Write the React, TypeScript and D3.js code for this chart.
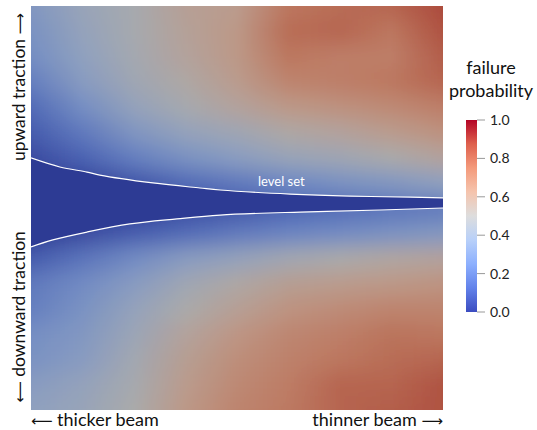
import React from 'react';
import * as d3 from 'd3';

// thickness (left: thicker, right: thinner), normalized 0..1
const thickness = [0, 0.125, 0.25, 0.375, 0.5, 0.625, 0.75, 0.875, 1];
// traction (top: upward +1, bottom: downward -1)
const traction = [1, 0.875, 0.75, 0.625, 0.5, 0.375, 0.25, 0.125, 0, -0.125, -0.25, -0.375, -0.5, -0.625, -0.75, -0.875, -1];
// failure probability, one row per traction value, one column per thickness value
const probability = [
  [0.33, 0.42, 0.48, 0.57, 0.60, 0.75, 0.78, 0.80, 0.87],
  [0.30, 0.40, 0.48, 0.56, 0.62, 0.78, 0.80, 0.75, 0.85],
  [0.28, 0.38, 0.47, 0.55, 0.62, 0.75, 0.72, 0.72, 0.82],
  [0.22, 0.35, 0.45, 0.52, 0.60, 0.70, 0.72, 0.75, 0.80],
  [0.15, 0.28, 0.40, 0.48, 0.55, 0.62, 0.65, 0.68, 0.72],
  [0.10, 0.20, 0.32, 0.40, 0.45, 0.52, 0.55, 0.60, 0.65],
  [0.05, 0.12, 0.22, 0.30, 0.36, 0.42, 0.45, 0.50, 0.55],
  [0.00, 0.02, 0.08, 0.15, 0.20, 0.25, 0.30, 0.33, 0.38],
  [0.00, 0.00, 0.00, 0.05, 0.08, 0.12, 0.15, 0.18, 0.20],
  [0.00, 0.05, 0.10, 0.15, 0.20, 0.24, 0.27, 0.30, 0.33],
  [0.10, 0.18, 0.27, 0.35, 0.40, 0.46, 0.50, 0.53, 0.55],
  [0.20, 0.27, 0.35, 0.45, 0.52, 0.58, 0.60, 0.62, 0.64],
  [0.22, 0.30, 0.40, 0.50, 0.57, 0.64, 0.67, 0.70, 0.70],
  [0.28, 0.33, 0.43, 0.55, 0.63, 0.69, 0.72, 0.76, 0.75],
  [0.30, 0.35, 0.46, 0.58, 0.66, 0.71, 0.75, 0.78, 0.80],
  [0.35, 0.40, 0.48, 0.60, 0.68, 0.73, 0.80, 0.80, 0.85],
  [0.38, 0.42, 0.50, 0.62, 0.70, 0.74, 0.80, 0.82, 0.85],
];
// level set contour: [thickness, traction]
const levelSetUpper: [number, number][] = [
  [0, 0.248], [0.07, 0.203], [0.136, 0.178], [0.167, 0.163], [0.296, 0.124],
  [0.41, 0.099], [0.459, 0.089], [0.629, 0.069], [0.774, 0.059], [0.92, 0.054], [1, 0.05],
];
const levelSetLower: [number, number][] = [
  [0, -0.193], [0.053, -0.158], [0.136, -0.119], [0.24, -0.079], [0.354, -0.054],
  [0.459, -0.035], [0.653, -0.02], [0.847, -0.01], [1, 0.0],
];
const colorbarTicks = [0, 0.2, 0.4, 0.6, 0.8, 1.0];
// ParaView "Cool to Warm" colour map
const coolWarmStops = [0, 0.125, 0.25, 0.375, 0.5, 0.625, 0.75, 0.875, 1];
const coolWarmColors = ['#3b4cc0', '#6282ea', '#8db0fe', '#b8d0f9', '#dddddd', '#f5c4ad', '#f49a7b', '#de604d', '#b40426'];

const W = 537;
const H = 430;
const SHADE = 0.77;
const FONT = 'Lato, "Open Sans", sans-serif';
const ARROW_FONT = '"DejaVu Sans", sans-serif';

export default function App() {
  const x = d3.scaleLinear().domain([0, 1]).range([31, 443]);
  const y = d3.scaleLinear().domain([1, -1]).range([6, 410]);
  const cb = d3.scaleLinear().domain([0, 1]).range([312, 120]);
  const coolWarm = d3.scaleLinear<string>().domain(coolWarmStops).range(coolWarmColors).interpolate(d3.interpolateLab);
  const shade = (v: number) => {
    const c = d3.rgb(coolWarm(v));
    return d3.rgb(c.r * SHADE, c.g * SHADE, c.b * SHADE).formatHex();
  };
  const rowH = Math.abs(y(traction[1]) - y(traction[0]));
  const line = d3.line<[number, number]>().x(d => x(d[0])).y(d => y(d[1])).curve(d3.curveCatmullRom);
  const upPath = line(levelSetUpper) as string;
  const loPath = line(levelSetLower) as string;
  const loRev = line(levelSetLower.slice().reverse()) as string;
  const bandPath = upPath + 'L' + loRev.slice(1) + 'Z';

  const arrowR = <tspan fontFamily={ARROW_FONT} fontSize={15}>⟶</tspan>;
  const arrowL = <tspan fontFamily={ARROW_FONT} fontSize={15}>⟵</tspan>;

  return (
    <svg width={W} height={H} style={{ position: 'absolute', left: 0, top: 0, background: '#fff' }}>
      <defs>
        {probability.map((row, j) => (
          <linearGradient key={j} id={`row${j}`} gradientUnits="userSpaceOnUse" x1={x(0)} x2={x(1)} y1={0} y2={0}>
            {row.map((v, i) => (
              <stop key={i} offset={thickness[i]} stopColor={shade(v)} />
            ))}
          </linearGradient>
        ))}
        <linearGradient id="cbar" x1="0" y1="1" x2="0" y2="0">
          {coolWarmStops.map((s, i) => (
            <stop key={i} offset={s} stopColor={coolWarmColors[i]} />
          ))}
        </linearGradient>
        <filter id="blur" filterUnits="userSpaceOnUse" x={-40} y={-80} width={620} height={600}>
          <feGaussianBlur stdDeviation="3 10" />
        </filter>
        <clipPath id="plotClip">
          <rect x={x(0)} y={y(1)} width={x(1) - x(0)} height={y(-1) - y(1)} />
        </clipPath>
      </defs>

      <g clipPath="url(#plotClip)">
        <g filter="url(#blur)">
          {traction.map((t, j) => {
            let top = y(t) - rowH / 2;
            let bot = y(t) + rowH / 2 + 0.5;
            if (j === 0) top -= 50;
            if (j === traction.length - 1) bot += 50;
            return <rect key={j} x={x(0) - 20} y={top} width={x(1) - x(0) + 40} height={bot - top} fill={`url(#row${j})`} />;
          })}
        </g>
        <path d={bandPath} fill={shade(0)} />
        <path d={upPath} fill="none" stroke="#fff" strokeWidth={1.2} />
        <path d={loPath} fill="none" stroke="#fff" strokeWidth={1.2} />
        <text x={258} y={186} fill="#fff" fontFamily={FONT} fontSize={13}>level set</text>
      </g>

      {/* axis labels */}
      <text x={31} y={426} fontFamily={FONT} fontSize={18} fill="#111">{arrowL} thicker beam</text>
      <text x={443} y={426} textAnchor="end" fontFamily={FONT} fontSize={18} fill="#111">thinner beam {arrowR}</text>
      <text transform="translate(25,87) rotate(-90)" textAnchor="middle" fontFamily={FONT} fontSize={17.5} fill="#111">upward traction {arrowR}</text>
      <text transform="translate(25,317) rotate(-90)" textAnchor="middle" fontFamily={FONT} fontSize={17.5} fill="#111">{arrowL} downward traction</text>

      {/* colorbar */}
      <text x={491} y={74} textAnchor="middle" fontFamily={FONT} fontSize={18} fill="#111">failure</text>
      <text x={491} y={97} textAnchor="middle" fontFamily={FONT} fontSize={18} fill="#111">probability</text>
      <rect x={466} y={cb(1)} width={11} height={cb(0) - cb(1)} fill="url(#cbar)" />
      {colorbarTicks.map(t => (
        <g key={t}>
          <line x1={477} x2={485} y1={cb(t)} y2={cb(t)} stroke="#999" strokeWidth={1} />
          <text x={490} y={cb(t)} dy="0.35em" fontFamily={FONT} fontSize={14} fill="#222">{t.toFixed(1)}</text>
        </g>
      ))}
    </svg>
  );
}
